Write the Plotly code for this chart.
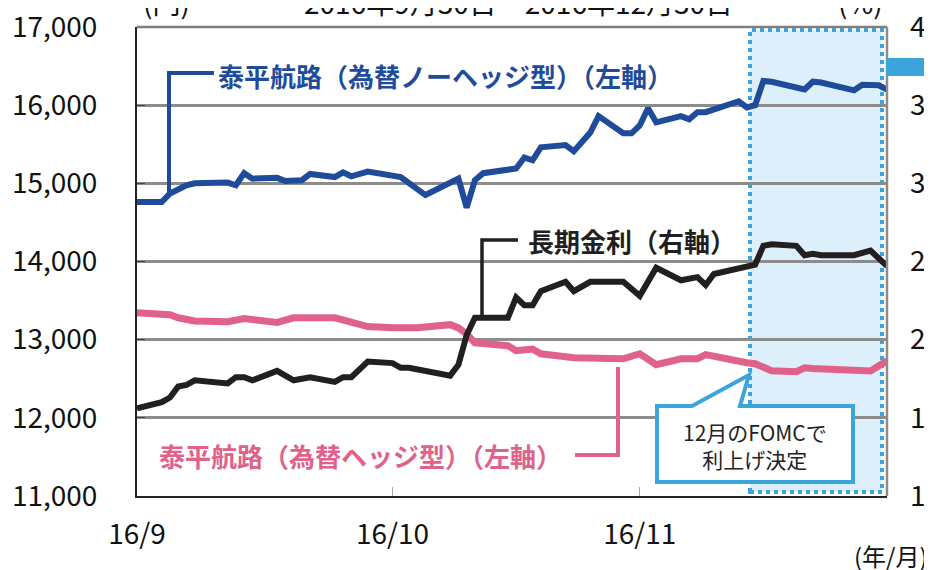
import plotly.graph_objects as go

# ---------------- data ----------------
hedge_free_dates = ["2016-09-30","2016-10-03","2016-10-04","2016-10-06","2016-10-07","2016-10-11","2016-10-12",
    "2016-10-13","2016-10-14","2016-10-17","2016-10-18","2016-10-20","2016-10-21","2016-10-24","2016-10-25",
    "2016-10-26","2016-10-28","2016-10-31","2016-11-01","2016-11-04","2016-11-08","2016-11-09","2016-11-10",
    "2016-11-11","2016-11-15","2016-11-16","2016-11-17","2016-11-18","2016-11-21","2016-11-22","2016-11-24",
    "2016-11-25","2016-11-28","2016-11-29","2016-11-30","2016-12-01","2016-12-02","2016-12-05","2016-12-06",
    "2016-12-07","2016-12-08","2016-12-12","2016-12-13","2016-12-14","2016-12-15","2016-12-16","2016-12-20",
    "2016-12-21","2016-12-22","2016-12-26","2016-12-27","2016-12-29","2016-12-30"]
hedge_free_values = [14760,14760,14870,14975,15000,15010,14975,15130,15060,15070,15030,15040,15120,15080,15140,
    15090,15150,15110,15080,14850,15060,14690,15040,15130,15190,15330,15295,15460,15490,15410,15650,15860,
    15640,15640,15740,15960,15780,15860,15820,15910,15910,16050,15970,16000,16310,16300,16200,16300,16290,
    16190,16260,16255,16200]

rate_dates = ["2016-09-30","2016-10-03","2016-10-04","2016-10-05","2016-10-06","2016-10-07","2016-10-11",
    "2016-10-12","2016-10-13","2016-10-14","2016-10-17","2016-10-19","2016-10-21","2016-10-24","2016-10-25",
    "2016-10-26","2016-10-28","2016-10-31","2016-11-01","2016-11-02","2016-11-07","2016-11-08","2016-11-09",
    "2016-11-10","2016-11-14","2016-11-15","2016-11-16","2016-11-17","2016-11-18","2016-11-21","2016-11-22",
    "2016-11-24","2016-11-28","2016-11-29","2016-11-30","2016-12-02","2016-12-05","2016-12-07","2016-12-08",
    "2016-12-09","2016-12-13","2016-12-14","2016-12-15","2016-12-16","2016-12-19","2016-12-20","2016-12-21",
    "2016-12-22","2016-12-26","2016-12-28","2016-12-30"]
rate_values = [1.56,1.60,1.63,1.70,1.71,1.74,1.72,1.76,1.76,1.74,1.80,1.74,1.76,1.73,1.76,1.76,1.86,1.85,
    1.82,1.82,1.77,1.84,2.03,2.14,2.14,2.27,2.22,2.22,2.31,2.37,2.31,2.37,2.37,2.32,2.28,2.46,2.38,2.40,
    2.35,2.42,2.47,2.48,2.60,2.61,2.60,2.54,2.55,2.54,2.54,2.57,2.47]

hedge_dates = ["2016-09-30","2016-10-04","2016-10-05","2016-10-07","2016-10-11","2016-10-13","2016-10-17",
    "2016-10-19","2016-10-24","2016-10-25","2016-10-28","2016-10-31","2016-11-03","2016-11-07","2016-11-08",
    "2016-11-09","2016-11-10","2016-11-11","2016-11-14","2016-11-15","2016-11-17","2016-11-18","2016-11-22",
    "2016-11-28","2016-11-29","2016-11-30","2016-12-02","2016-12-05","2016-12-07","2016-12-08","2016-12-13",
    "2016-12-14","2016-12-16","2016-12-19","2016-12-20","2016-12-21","2016-12-28","2016-12-30"]
hedge_values = [13346,13320,13280,13240,13230,13270,13220,13280,13280,13256,13167,13154,13154,13192,13150,
    13075,12960,12950,12923,12859,12880,12820,12769,12756,12795,12820,12680,12756,12756,12808,12705,12692,
    12603,12590,12641,12630,12600,12730]

x_tick_vals = ["2016-09-30", "2016-10-31", "2016-11-30"]
x_tick_text = ["16/9", "16/10", "16/11"]
y_left_ticks = [11000, 12000, 13000, 14000, 15000, 16000, 17000]
y_right_vals = [1.0, 1.5, 2.0, 2.5, 3.0, 3.5, 4.0]
y_right_text = ["1", "1", "2", "2", "3", "3", "4"]

name_free = "泰平航路（為替ノーヘッジ型）（左軸）"
name_rate = "長期金利（右軸）"
name_hedge = "泰平航路（為替ヘッジ型）（左軸）"
title_text = "2016年9月30日～2016年12月30日"
callout_text = "12月のFOMCで<br>利上げ決定"

# ---------------- styles ----------------
BLUE = "#1f4c9a"
BLACK = "#231f20"
PINK = "#e0628a"
SKY = "#3ba5db"
GRID = "#8c8c8c"
FONT = "Noto Sans CJK JP"

OFF = 8  # page body margin offset
W, H = 932 - OFF, 570 - OFF
L, R, T, B = 137 - OFF, 45, 27 - OFF, 74
PW, PH = W - L - R, H - T - B


def px(x):
    return (x - OFF - L) / PW


def py(y):
    return (H - B - (y - OFF)) / PH


fig = go.Figure()
fig.add_trace(go.Scatter(x=hedge_free_dates, y=hedge_free_values, mode="lines",
                         line=dict(color=BLUE, width=6), name=name_free))
fig.add_trace(go.Scatter(x=hedge_dates, y=hedge_values, mode="lines",
                         line=dict(color=PINK, width=7), name=name_hedge))
fig.add_trace(go.Scatter(x=rate_dates, y=rate_values, mode="lines", yaxis="y2",
                         line=dict(color=BLACK, width=6), name=name_rate))

shapes = []
# FOMC shaded region
shapes.append(dict(type="rect", xref="paper", yref="paper", x0=px(750), x1=px(882), y0=py(492), y1=py(30),
                   fillcolor="#ddeffa", line=dict(color=SKY, width=4, dash="4px,4px"), layer="below"))
# frame: top and right
shapes.append(dict(type="line", xref="paper", yref="paper", x0=0, x1=1, y0=1, y1=1,
                   line=dict(color="#7f7f7f", width=2.5)))
shapes.append(dict(type="line", xref="paper", yref="paper", x0=1, x1=1, y0=0, y1=1,
                   line=dict(color="#8c8c8c", width=2.5)))
# leader lines
shapes.append(dict(type="path", xref="paper", yref="paper",
                   path=f"M {px(214)},{py(73)} L {px(169)},{py(73)} L {px(169)},{py(194)}",
                   line=dict(color=BLUE, width=4)))
shapes.append(dict(type="path", xref="paper", yref="paper",
                   path=f"M {px(518)},{py(240)} L {px(482)},{py(240)} L {px(482)},{py(316)}",
                   line=dict(color=BLACK, width=3.5)))
shapes.append(dict(type="path", xref="paper", yref="paper",
                   path=f"M {px(575)},{py(455)} L {px(618)},{py(455)} L {px(618)},{py(367)}",
                   line=dict(color=PINK, width=4)))
# callout box with pointer
shapes.append(dict(type="path", xref="paper", yref="paper",
                   path=(f"M {px(657)},{py(406)} L {px(692)},{py(406)} L {px(749)},{py(375)} "
                         f"L {px(740)},{py(406)} L {px(853)},{py(406)} L {px(853)},{py(482)} "
                         f"L {px(657)},{py(482)} Z"),
                   fillcolor="white", line=dict(color=SKY, width=4)))
# legend-like marker cut off at right edge
shapes.append(dict(type="rect", xref="paper", yref="paper", x0=px(886), x1=px(945), y0=py(76), y1=py(58),
                   fillcolor=SKY, line=dict(width=0)))

annotations = [
    dict(text=f"<b>{name_free}</b>", x=px(216), y=py(75), xref="paper", yref="paper", xanchor="left",
         yanchor="middle", showarrow=False, font=dict(family=FONT, size=26, color=BLUE)),
    dict(text=f"<b>{name_rate}</b>", x=px(526), y=py(240), xref="paper", yref="paper", xanchor="left",
         yanchor="middle", showarrow=False, font=dict(family=FONT, size=26, color=BLACK)),
    dict(text=f"<b>{name_hedge}</b>", x=px(157), y=py(455), xref="paper", yref="paper", xanchor="left",
         yanchor="middle", showarrow=False, font=dict(family=FONT, size=26, color=PINK)),
    dict(text=callout_text, x=px(755), y=py(445), xref="paper", yref="paper", xanchor="center",
         yanchor="middle", showarrow=False, font=dict(family=FONT, size=21, color="#222222")),
    dict(text=title_text, x=px(518), y=py(2), xref="paper", yref="paper", xanchor="center",
         yanchor="middle", showarrow=False, font=dict(family=FONT, size=28, color="#111111")),
    dict(text="(円)", x=px(166), y=py(2), xref="paper", yref="paper", xanchor="center",
         yanchor="middle", showarrow=False, font=dict(family=FONT, size=28, color="#111111")),
    dict(text="(%)", x=px(860), y=py(2), xref="paper", yref="paper", xanchor="center",
         yanchor="middle", showarrow=False, font=dict(family=FONT, size=28, color="#111111")),
    dict(text="(年/月)", x=px(930), y=py(555), xref="paper", yref="paper", xanchor="right",
         yanchor="middle", showarrow=False, font=dict(family=FONT, size=24, color="#111111")),
]

fig.update_layout(
    width=W, height=H,
    margin=dict(l=L, r=R, t=T, b=B, pad=0, autoexpand=False),
    paper_bgcolor="white", plot_bgcolor="white",
    showlegend=False,
    font=dict(family=FONT, size=28, color="#111111"),
    xaxis=dict(type="date", range=["2016-09-30", "2016-12-30"], tickvals=x_tick_vals, ticktext=x_tick_text,
               showgrid=False, zeroline=False, showline=True, linecolor="#222222", linewidth=1.5,
               ticks="inside", ticklen=9, tickcolor="#aaaaaa", tickwidth=1, automargin=False,
               ticklabelstandoff=13, ticklabeloverflow="allow", tickfont=dict(size=28)),
    yaxis=dict(range=[11000, 17000], tickvals=y_left_ticks, tickformat=",", showgrid=True,
               gridcolor=GRID, gridwidth=2.5, zeroline=False, showline=True, linecolor="#222222",
               linewidth=2, ticks="inside", ticklen=8, tickcolor="#444444", ticklabelstandoff=32,
               ticklabeloverflow="allow", automargin=False, tickfont=dict(size=28)),
    yaxis2=dict(range=[1, 4], overlaying="y", side="right", tickvals=y_right_vals, ticktext=y_right_text,
                showgrid=False, zeroline=False, showline=False, ticks="", ticklabelstandoff=22,
                ticklabeloverflow="allow", automargin=False, tickfont=dict(size=28)),
    shapes=shapes,
    annotations=annotations,
)

fig.write_html("out.html")
